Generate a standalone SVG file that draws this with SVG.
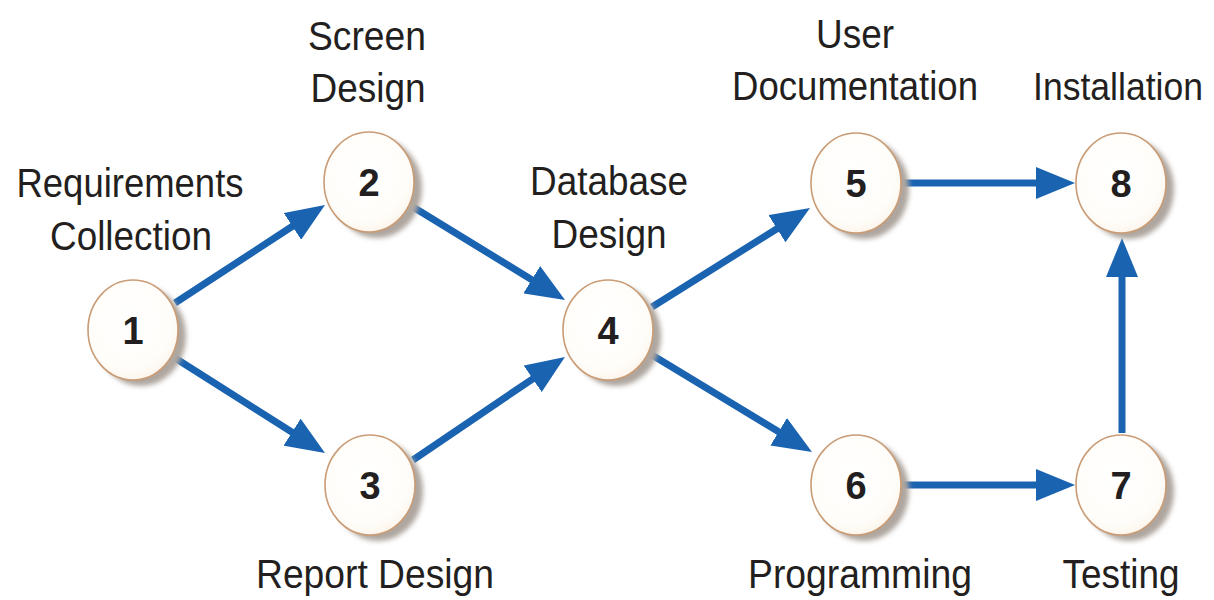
<svg xmlns="http://www.w3.org/2000/svg" width="1214" height="600" viewBox="0 0 1214 600">
<style>
.lbl{font-family:"Liberation Sans",Arial,sans-serif;font-size:40px;fill:#231f20;text-anchor:middle}
.num{font-family:"Liberation Sans",Arial,sans-serif;font-size:38px;font-weight:bold;fill:#231f20;text-anchor:middle}
.ring{fill:url(#fillg);stroke:#c99c76;stroke-width:1.6}
.shadow{fill:#aea69f;filter:url(#blur)}
.edge{stroke:#1a63b0;stroke-width:7;fill:none;marker-end:url(#head)}
</style>
<defs>
<radialGradient id="fillg" cx="0.45" cy="0.4" r="0.65">
<stop offset="0" stop-color="#ffffff"/>
<stop offset="0.75" stop-color="#fffdf9"/>
<stop offset="1" stop-color="#fbf2e8"/>
</radialGradient>
<filter id="blur" x="-30%" y="-30%" width="160%" height="160%">
<feGaussianBlur stdDeviation="2.5"/>
</filter>
<marker id="head" markerUnits="userSpaceOnUse" markerWidth="40" markerHeight="32" refX="1" refY="16" orient="auto" viewBox="0 0 40 32">
<path d="M0,0 L39,16 L0,32 Z" fill="#1a63b0"/>
</marker>
</defs>
<rect width="1214" height="600" fill="#ffffff"/>

<g id="connectors">
<line class="edge" x1="175" y1="303" x2="293.2" y2="225.8"/>
<line class="edge" x1="175" y1="358" x2="292.9" y2="432.7"/>
<line class="edge" x1="413" y1="207" x2="532.6" y2="280.2"/>
<line class="edge" x1="413" y1="460" x2="533.5" y2="378.3"/>
<line class="edge" x1="652" y1="307" x2="777.8" y2="228.2"/>
<line class="edge" x1="652" y1="355" x2="779.5" y2="432.3"/>
<line class="edge" x1="903" y1="183" x2="1037" y2="183"/>
<line class="edge" x1="903" y1="485" x2="1037" y2="485"/>
<line class="edge" x1="1122" y1="433" x2="1122" y2="276"/>
</g>

<g id="node1">
<ellipse class="shadow" cx="141" cy="336" rx="45" ry="50"/>
<ellipse class="ring" cx="133" cy="330" rx="45" ry="50"/>
<text class="num" x="133" y="344">1</text>
<text class="lbl" x="130" y="197" textLength="227" lengthAdjust="spacingAndGlyphs">Requirements</text>
<text class="lbl" x="131" y="250" textLength="162" lengthAdjust="spacingAndGlyphs">Collection</text>
</g>

<g id="node2">
<ellipse class="shadow" cx="377" cy="188" rx="45" ry="50"/>
<ellipse class="ring" cx="369" cy="182" rx="45" ry="50"/>
<text class="num" x="369" y="196">2</text>
<text class="lbl" x="367" y="50" textLength="118" lengthAdjust="spacingAndGlyphs">Screen</text>
<text class="lbl" x="368" y="102" textLength="115" lengthAdjust="spacingAndGlyphs">Design</text>
</g>

<g id="node3">
<ellipse class="shadow" cx="378" cy="491" rx="45" ry="50"/>
<ellipse class="ring" cx="370" cy="485" rx="45" ry="50"/>
<text class="num" x="370" y="499">3</text>
<text class="lbl" x="375" y="588" textLength="238" lengthAdjust="spacingAndGlyphs">Report Design</text>
</g>

<g id="node4">
<ellipse class="shadow" cx="616" cy="336" rx="45" ry="50"/>
<ellipse class="ring" cx="608" cy="330" rx="45" ry="50"/>
<text class="num" x="608" y="344">4</text>
<text class="lbl" x="609" y="195" textLength="158" lengthAdjust="spacingAndGlyphs">Database</text>
<text class="lbl" x="609" y="248" textLength="115" lengthAdjust="spacingAndGlyphs">Design</text>
</g>

<g id="node5">
<ellipse class="shadow" cx="864" cy="189" rx="45" ry="50"/>
<ellipse class="ring" cx="856" cy="183" rx="45" ry="50"/>
<text class="num" x="856" y="197">5</text>
<text class="lbl" x="855" y="48" textLength="78" lengthAdjust="spacingAndGlyphs">User</text>
<text class="lbl" x="855" y="100" textLength="246" lengthAdjust="spacingAndGlyphs">Documentation</text>
</g>

<g id="node6">
<ellipse class="shadow" cx="864" cy="491" rx="45" ry="50"/>
<ellipse class="ring" cx="856" cy="485" rx="45" ry="50"/>
<text class="num" x="856" y="499">6</text>
<text class="lbl" x="860" y="588" textLength="224" lengthAdjust="spacingAndGlyphs">Programming</text>
</g>

<g id="node7">
<ellipse class="shadow" cx="1129" cy="491" rx="45" ry="50"/>
<ellipse class="ring" cx="1121" cy="485" rx="45" ry="50"/>
<text class="num" x="1121" y="499">7</text>
<text class="lbl" x="1121" y="588" textLength="117" lengthAdjust="spacingAndGlyphs">Testing</text>
</g>

<g id="node8">
<ellipse class="shadow" cx="1129" cy="189" rx="45" ry="50"/>
<ellipse class="ring" cx="1121" cy="183" rx="45" ry="50"/>
<text class="num" x="1121" y="197">8</text>
<text class="lbl" x="1118" y="100" style="font-size:38px" textLength="170" lengthAdjust="spacingAndGlyphs">Installation</text>
</g>
</svg>
